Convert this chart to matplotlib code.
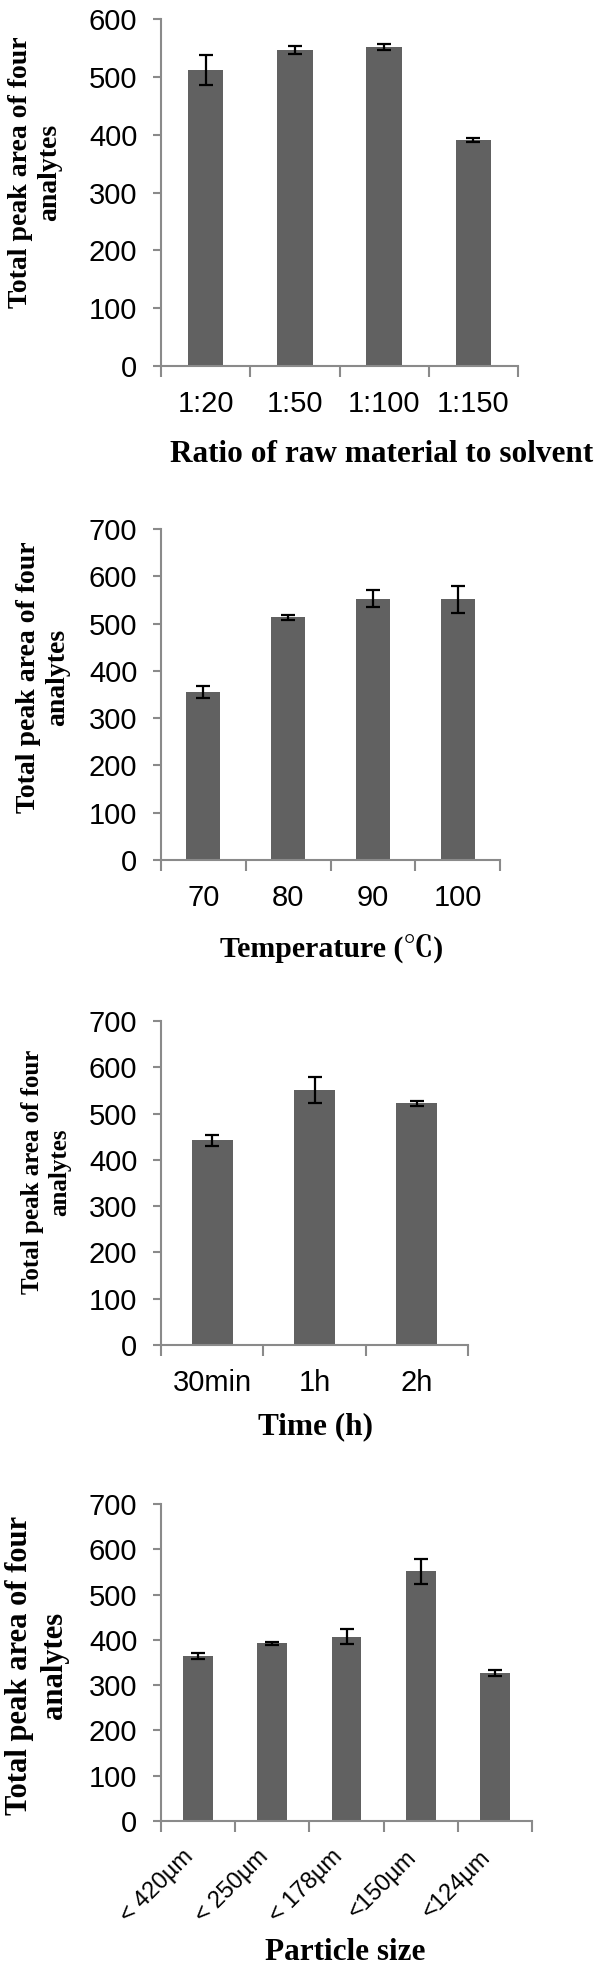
import matplotlib
matplotlib.use("Agg")
import matplotlib.pyplot as plt
import numpy as np

# ---- data ----
ratio_labels = ['1:20', '1:50', '1:100', '1:150']
ratio_vals = [512, 547, 551, 391]
ratio_err = [26, 7, 5, 3]

temp_labels = ['70', '80', '90', '100']
temp_vals = [356, 513, 553, 551]
temp_err = [13, 6, 19, 28]

time_labels = ['30min', '1h', '2h']
time_vals = [442, 551, 522]
time_err = [12, 28, 5]

size_labels = ['< 420µm', '< 250µm', '< 178µm', '<150µm', '<124µm']
size_vals = [365, 392, 407, 551, 327]
size_err = [7, 2.5, 17, 28, 6]

ylabel_text = 'Total peak area of four\nanalytes'

W, H = 600, 1970
fig = plt.figure(figsize=(W / 100, H / 100), dpi=100)

SANS = ['Liberation Sans', 'DejaVu Sans']
SERIF = ['Liberation Serif', 'Noto Serif CJK SC', 'Noto Sans CJK SC', 'DejaVu Serif']
BAR = '#616161'
SPINE = '#8a8a8a'


def px_axes(left, right, top0, bottom0):
    # pixel coords (from top) -> figure fraction
    return [left / W, 1 - bottom0 / H, (right - left) / W, (bottom0 - top0) / H]


panels = [
    dict(labels=ratio_labels, vals=ratio_vals, err=ratio_err, ymax=600,
         box=(161, 518, 19, 366), xlabel='Ratio of raw material to solvent',
         xl=(382, 454, 22.5), yl=(35, 172, 20), rot=False),
    dict(labels=temp_labels, vals=temp_vals, err=temp_err, ymax=700,
         box=(161, 500, 529, 860), xlabel='Temperature (℃)',
         xl=(332, 948, 21.5), yl=(43, 677, 20), rot=False),
    dict(labels=time_labels, vals=time_vals, err=time_err, ymax=700,
         box=(161, 468, 1021, 1345), xlabel='Time (h)',
         xl=(315, 1427, 22.5), yl=(46, 1172, 18), rot=False),
    dict(labels=size_labels, vals=size_vals, err=size_err, ymax=700,
         box=(161, 532, 1504, 1821), xlabel='Particle size',
         xl=(345, 1953, 22.5), yl=(37, 1665, 22), rot=True),
]

for p in panels:
    l, r, t, b = p['box']
    ax = fig.add_axes(px_axes(l, r, t, b))
    n = len(p['labels'])
    x = np.arange(n)
    ax.bar(x, p['vals'], width=0.4, color=BAR, zorder=2)
    ax.errorbar(x, p['vals'], yerr=p['err'], fmt='none', ecolor='black',
                elinewidth=1.6, capsize=5, capthick=1.6, zorder=3)
    ax.set_xlim(-0.5, n - 0.5)
    ax.set_ylim(0, p['ymax'])
    ax.set_yticks(np.arange(0, p['ymax'] + 1, 100))
    for s in ['top', 'right']:
        ax.spines[s].set_visible(False)
    for s in ['left', 'bottom']:
        ax.spines[s].set_color(SPINE)
        ax.spines[s].set_linewidth(1.5)
    # boundaries as major ticks, labels at centers as minor ticks
    ax.set_xticks(np.arange(-0.5, n, 1.0))
    ax.set_xticklabels([])
    ax.set_xticks(x, minor=True)
    if p['rot']:
        ax.set_xticklabels(p['labels'], minor=True, rotation=45, ha='right',
                           va='top', fontsize=17, family=SANS)
        ax.tick_params(axis='x', which='minor', length=0, pad=18)
    else:
        ax.set_xticklabels(p['labels'], minor=True, fontsize=21, family=SANS)
        ax.tick_params(axis='x', which='minor', length=0, pad=17)
    ax.tick_params(axis='x', which='major', direction='out', length=8,
                   width=1.5, color=SPINE)
    ax.tick_params(axis='y', direction='out', length=6, width=1.5,
                   color=SPINE, pad=11, labelsize=21)
    for lab in ax.get_yticklabels():
        lab.set_family(SANS)
    # x label
    xx, xy, xfs = p['xl']
    fig.text(xx / W, 1 - xy / H, p['xlabel'], ha='center', va='center',
             fontsize=xfs, fontweight='bold', family=SERIF)
    # y label
    yx, yy, yfs = p['yl']
    fig.text(yx / W, 1 - yy / H, ylabel_text, rotation=90, ha='center',
             va='center', multialignment='center', fontsize=yfs,
             fontweight='bold', family=SERIF, linespacing=1.25)

fig.savefig('out.png', dpi=100)
